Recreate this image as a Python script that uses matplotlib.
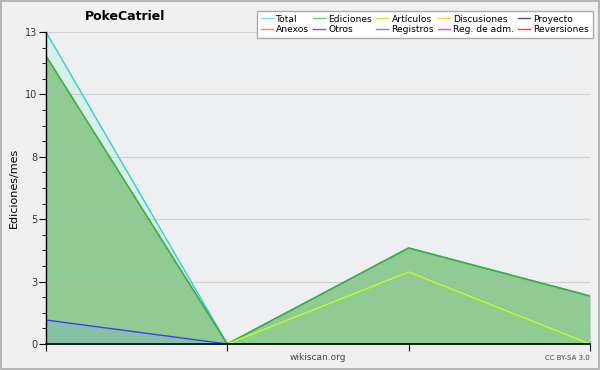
import numpy as np
import matplotlib.pyplot as plt
from matplotlib.patches import Rectangle
from matplotlib.lines import Line2D

# Data (edits per month)
months = [0, 1, 2, 3]
total = [13, 0, 4, 2]
ediciones = [12, 0, 4, 2]
articulos = [0, 0, 3, 0]
registros = [1, 0, 0, 0]

legend_labels = ["Total", "Ediciones", "Artículos", "Discusiones", "Proyecto",
                 "Anexos", "Otros", "Registros", "Reg. de adm.", "Reversiones"]
legend_colors = ["#7fdfdf", "#6fcf6f", "#bfef3f", "#ffcf3f", "#555555",
                 "#ff8f3f", "#9f3fef", "#7f7fff", "#ef3fef", "#ff3f3f"]

Y_MAX = 13


def main():
    fig = plt.figure(figsize=(6, 3.7), dpi=100, facecolor="#f0f0f0")
    fig.add_artist(Rectangle((0.002, 0.003), 0.996, 0.994, transform=fig.transFigure,
                             fill=False, edgecolor="#aaaaaa", linewidth=1.2))
    ax = fig.add_axes([46 / 600, 26 / 370, 544 / 600, 312 / 370])
    ax.set_facecolor("#eeeff1")

    ax.fill_between(months, total, color="#d8f0ea", linewidth=0)
    ax.plot(months, total, color="#2fcfcf", linewidth=1)
    ax.fill_between(months, ediciones, color="#90cb94", linewidth=0)
    ax.plot(months, ediciones, color="#3aaf3a", linewidth=1.2)
    ax.fill_between(months, registros, color="#86c1a4", linewidth=0)
    ax.plot(months, registros, color="#3c3cff", linewidth=1)
    ax.plot(months, articulos, color="#bfff1f", linewidth=1)

    ax.set_xlim(0, 3)
    ax.set_ylim(0, Y_MAX)
    yt = np.linspace(0, Y_MAX, 6)
    ax.set_yticks(yt)
    ax.set_yticklabels([f"{v:.0f}" for v in yt], fontsize=7, color="#333333")
    ax.set_yticks(np.arange(0, Y_MAX + 0.01, Y_MAX / 20), minor=True)
    ax.set_xticks(months)
    ax.set_xticklabels([])
    ax.tick_params(axis="y", which="major", length=5, pad=1)
    ax.tick_params(axis="y", which="minor", length=3)
    ax.tick_params(axis="x", length=5, direction="out")
    ax.grid(axis="y", color="#b0b0b0", alpha=0.45, linewidth=0.8)
    for side in ["top", "right"]:
        ax.spines[side].set_visible(False)
    ax.spines["left"].set_linewidth(1)
    ax.spines["bottom"].set_linewidth(1.2)

    ax.set_ylabel("Ediciones/mes", fontsize=8)
    ax.yaxis.set_label_coords(-27 / 544, 0.5)
    fig.text(125 / 600, 1 - 17 / 370, "PokeCatriel", fontsize=9, fontweight="bold",
             ha="center", va="center")
    fig.text(318 / 600, 1 - 358 / 370, "wikiscan.org", fontsize=6.5, color="#444444",
             ha="center", va="center")
    fig.text(590 / 600, 1 - 358 / 370, "CC BY-SA 3.0", fontsize=5, color="#444444",
             ha="right", va="center")

    handles = [Line2D([], [], color=c, linewidth=1) for c in legend_colors]
    order = [0, 5, 1, 6, 2, 7, 3, 8, 4, 9]
    leg = fig.legend([handles[i] for i in order], [legend_labels[i] for i in order],
                     ncol=5, loc="upper right", bbox_to_anchor=(593 / 600, 1 - 11 / 370),
                     fontsize=6.6, frameon=True, fancybox=False, handlelength=1.3,
                     handletextpad=0.35, columnspacing=0.45, labelspacing=0.15,
                     borderpad=0.4, borderaxespad=0)
    leg.get_frame().set_edgecolor("#aaaaaa")
    leg.get_frame().set_facecolor("white")
    leg.get_frame().set_alpha(1)

    fig.savefig("out.png", dpi=100, facecolor=fig.get_facecolor())


if __name__ == "__main__":
    main()
